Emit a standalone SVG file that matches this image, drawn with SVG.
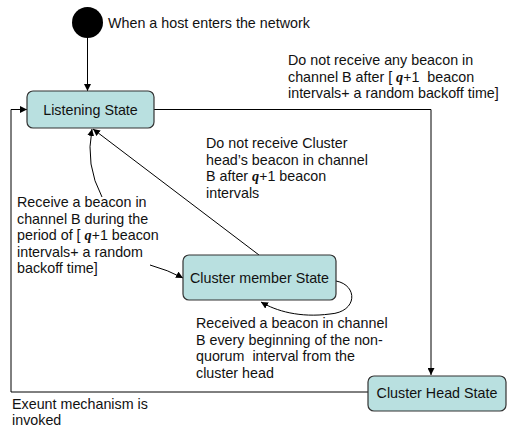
<svg xmlns="http://www.w3.org/2000/svg" width="507" height="428" viewBox="0 0 507 428">
<defs>
<marker id="arr" viewBox="0 0 10 10" refX="10" refY="5" markerWidth="7" markerHeight="7" markerUnits="userSpaceOnUse" orient="auto">
<path d="M0,0 L10,5 L0,10 z" fill="#000"/>
</marker>
</defs>
<style>
.st{fill:#b9e0e0;stroke:#333;stroke-width:1.2}
.lbl{font-family:"Liberation Sans",Arial,sans-serif;font-size:14.3px;fill:#111;white-space:pre}
.q{font-family:"Liberation Serif","DejaVu Serif",serif;font-style:italic;font-weight:bold}
.qp{font-family:"Liberation Serif","DejaVu Serif",serif;font-weight:bold}
.c{fill:none;stroke:#000;stroke-width:1;marker-end:url(#arr)}
</style>
<rect width="507" height="428" fill="#fff"/>
<g id="connectors">
<line class="c" x1="87.5" y1="38" x2="87.5" y2="91"/>
<path class="c" d="M154,109.5 H431 V375"/>
<path class="c" d="M368,392 H11 V109.5 H27"/>
<line class="c" x1="259" y1="255" x2="93" y2="129"/>
<path class="c" d="M102,197 Q85,165 92,129"/>
<path class="c" d="M150,265 Q168,270 183,278"/>
<path class="c" d="M336,281 C358,285 358,312 330,314 C300,318 276,311 261,302"/>
</g>
<g id="start">
<circle cx="87.5" cy="22.5" r="15.5" fill="#000"/>
<text class="lbl" x="108" y="28">When a host enters the network</text>
</g>
<g id="listening">
<rect class="st" x="27" y="91" width="127" height="37" rx="6"/>
<text class="lbl" x="90.5" y="114.5" text-anchor="middle">Listening State</text>
</g>
<g id="member">
<rect class="st" x="183" y="255" width="153" height="45" rx="6"/>
<text class="lbl" x="259.5" y="283" text-anchor="middle">Cluster member State</text>
</g>
<g id="head">
<rect class="st" x="368" y="376" width="138" height="35" rx="6"/>
<text class="lbl" x="437" y="398" text-anchor="middle">Cluster Head State</text>
</g>
<g id="labels">
<text class="lbl" x="288" y="65">Do not receive any beacon in</text>
<text class="lbl" x="288" y="81.5">channel B after [ <tspan class="q">q</tspan><tspan class="qp">+</tspan>1  beacon</text>
<text class="lbl" x="288" y="98">intervals+ a random backoff time]</text>
<text class="lbl" x="206" y="148">Do not receive Cluster</text>
<text class="lbl" x="206" y="164.5">head’s beacon in channel</text>
<text class="lbl" x="206" y="181">B after <tspan class="q">q</tspan><tspan class="qp">+</tspan>1 beacon</text>
<text class="lbl" x="206" y="197.5">intervals</text>
<text class="lbl" x="17" y="207">Receive a beacon in</text>
<text class="lbl" x="17" y="223.5">channel B during the</text>
<text class="lbl" x="17" y="240">period of [ <tspan class="q">q</tspan><tspan class="qp">+</tspan>1 beacon</text>
<text class="lbl" x="17" y="256.5">intervals+ a random</text>
<text class="lbl" x="17" y="273">backoff time]</text>
<text class="lbl" x="196" y="328">Received a beacon in channel</text>
<text class="lbl" x="196" y="344.5">B every beginning of the non-</text>
<text class="lbl" x="196" y="361">quorum  interval from the</text>
<text class="lbl" x="196" y="377.5">cluster head</text>
<text class="lbl" x="12" y="409">Exeunt mechanism is</text>
<text class="lbl" x="12" y="425">invoked</text>
</g>
</svg>
